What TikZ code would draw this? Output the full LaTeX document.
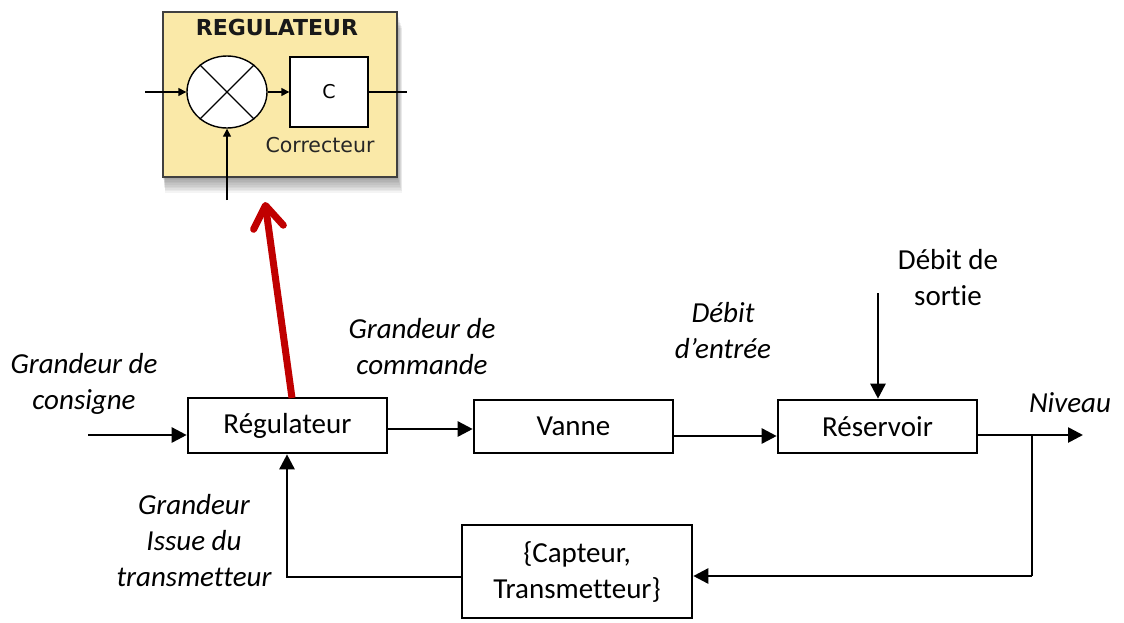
\documentclass[tikz,border=0pt]{standalone}
\usepackage{fontspec}
\setmainfont[Ligatures=NoCommon]{Carlito}
\newfontfamily\vfont{DejaVu Sans}
\usetikzlibrary{arrows.meta,calc,shapes.geometric}
\definecolor{insety}{HTML}{FAE9A8}
\definecolor{redarrow}{HTML}{C00000}
\begin{document}
\begin{tikzpicture}[x=1pt,y=-1pt,
  blk/.style={draw, line width=2.6pt, inner sep=0pt, align=center,
    font=\fontsize{29}{36}\selectfont},
  lbl/.style={align=center, inner sep=0pt, font=\fontsize{29}{36}\selectfont\itshape},
  ulbl/.style={align=center, inner sep=0pt, font=\fontsize{29}{36}\selectfont},
  arr/.style={line width=2.6pt, -{Triangle[length=15pt,width=15pt]}},
  plain/.style={line width=2.6pt},
  iarr/.style={line width=1.4pt, -{Triangle[length=8pt,width=8pt]}},
  iline/.style={line width=1.4pt},
  redarr/.style={line width=7pt, color=redarrow, -{Straight Barb[length=22pt,width=30pt,round]}}
]
\useasboundingbox (0,0) rectangle (1124,622);

% ---------- inset (regulateur detail) ----------
\foreach \i in {1,...,10}
  \fill[black, opacity=0.045] (163+0.2*\i,12+1.6*\i) rectangle (397+0.5*\i,177+1.6*\i);
\node[draw=black!75, fill=insety, line width=1.6pt, minimum width=234pt,
      minimum height=165pt, inner sep=0pt] (ins) at (280,94.5) {};
\node[font=\vfont\bfseries\fontsize{22}{22}\selectfont, text=black!90, inner sep=0pt]
      (ititle) at (277,27) {REGULATEUR};
\node[ellipse, draw, fill=white, line width=1.4pt, minimum width=80pt,
      minimum height=72pt, inner sep=0pt] (sum) at (227,92) {};
\draw[iline] (sum.45) -- (sum.225);
\draw[iline] (sum.135) -- (sum.315);
\node[draw, fill=white, line width=1.4pt, minimum width=78pt, minimum height=70pt,
      inner sep=0pt, font=\vfont\fontsize{19}{20}\selectfont] (corr) at (329,92) {C};
\node[font=\vfont\fontsize{20.5}{21}\selectfont, text=black!85, inner sep=0pt]
      (icorr) at (320,145) {Correcteur};
\coordinate (iin) at (145,92);
\coordinate (iout) at (407,92);
\coordinate (ifb) at (227,200);
\draw[iarr] (iin) -- (sum.west);
\draw[iarr] (sum.east) -- (corr.west);
\draw[iline] (corr.east) -- (iout);
\draw[iarr] (ifb) -- (sum.south);

% ---------- main blocks ----------
\node[blk, minimum width=199pt, minimum height=55pt] (reg) at (287.5,425.5) {Régulateur};
\node[blk, minimum width=199pt, minimum height=53pt] (van) at (573.5,426.5) {Vanne};
\node[blk, minimum width=199pt, minimum height=53pt] (res) at (877.5,426.5) {Réservoir};
\node[blk, minimum width=230pt, minimum height=93pt] (cap) at (577,571.5) {\{Capteur,\\Transmetteur\}};

% ---------- coordinates ----------
\coordinate (in) at (88,435);
\coordinate (y429) at (0,429);
\coordinate (y436) at (0,436);
\coordinate (out) at (1083,435);
\coordinate (tap) at (1032,435);
\coordinate (tapb) at (1032,576);
\coordinate (fb) at (287,577);
\coordinate (ds) at (878,293);
\coordinate (rb) at (292,398);
\coordinate (rt) at (265,202);

% ---------- connectors ----------
\draw[arr] (in) -- (in -| reg.west);
\draw[arr] (reg.east |- y429) -- (van.west |- y429);
\draw[arr] (van.east |- y436) -- (res.west |- y436);
\draw[arr] (res.east |- out) -- (out);
\draw[plain] (tap) -- (tapb);
\draw[arr] (tapb) -- (cap.east |- tapb);
\draw[arr] (cap.west |- fb) -- (fb) -- (fb |- reg.south);
\draw[arr] (ds) -- (ds |- res.north);
\draw[redarr] (rb) -- (rt);

% ---------- labels ----------
\node[lbl] (lcons) at (84,384) {Grandeur de\\consigne};
\node[lbl] (lcomm) at (422,347) {Grandeur de\\commande};
\node[lbl] (lent) at (723,331) {Débit\\d’entrée};
\node[ulbl] (lsort) at (948,278) {Débit de\\sortie};
\node[lbl] (lniv) at (1070,403) {Niveau};
\node[lbl] (liss) at (194,541) {Grandeur\\Issue du\\transmetteur};
\end{tikzpicture}
\end{document}
